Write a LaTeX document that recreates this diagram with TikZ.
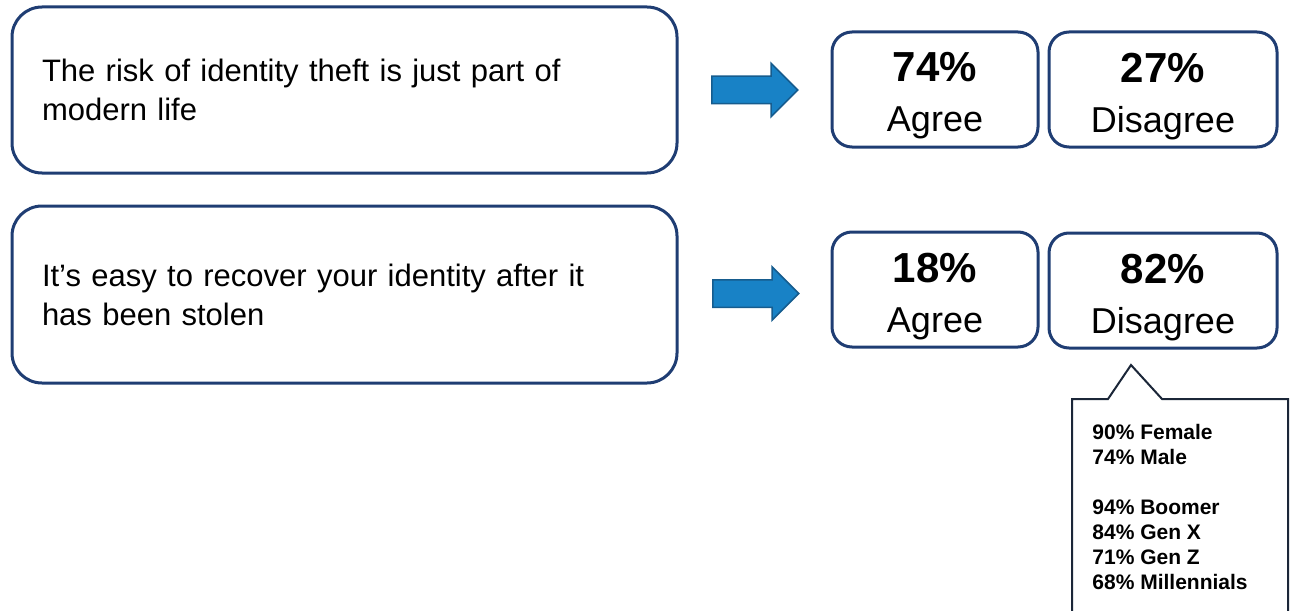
\documentclass[tikz,border=0pt]{standalone}
\usepackage{fontspec}
\setmainfont{Liberation Sans}
\usepackage{xcolor}
\usetikzlibrary{shapes.arrows}

\definecolor{navy}{HTML}{1F3D73}
\definecolor{arrowblue}{HTML}{1882C6}
\definecolor{arrowedge}{HTML}{165C8E}
\definecolor{calloutedge}{HTML}{1B2638}

\tikzset{
    stmtbox/.style={draw=navy,line width=1.5pt,rounded corners=15pt,minimum width=332.5pt,
        text width=302.5pt,align=left,inner xsep=15pt,font=\fontsize{15.5}{19.5}\selectfont},
    pctbox/.style={draw=navy,line width=1.5pt,rounded corners=10pt,minimum height=57.5pt,inner sep=0pt},
    pcttext/.style={align=center,inner sep=0pt,font=\fontsize{18}{25}\selectfont},
    bluearrow/.style={single arrow,draw=arrowedge,fill=arrowblue,line width=0.75pt,inner xsep=0pt,inner ysep=6.5pt,
        minimum height=43pt,minimum width=26pt,single arrow head extend=6.5pt,anchor=tail},
}

\newcommand{\pct}[1]{{\fontsize{21}{25}\selectfont\bfseries #1}}

\begin{document}
\begin{tikzpicture}[x=0.5pt,y=-0.5pt]
        \clip (0,0) rectangle (1299,610);
        % statements
        \node[stmtbox,minimum height=83pt] (stmtA) at (344.5,90) {The risk of identity theft is just part of\\modern life};
        \node[stmtbox,minimum height=88.5pt] (stmtB) at (344.5,294.5) {It’s easy to recover your identity after it\\has been stolen};
        \node[bluearrow] (arrA) at (711,90) {};
        \node[bluearrow] (arrB) at (712,293.5) {};
        % answers
        \node[pctbox,minimum width=103pt] (agreeA) at (935,89.5) {};
        \node[pctbox,minimum width=114pt] (disA) at (1163,89.5) {};
        \node[pctbox,minimum width=103pt] (agreeB) at (935,289.5) {};
        \node[pctbox,minimum width=114pt] (disB) at (1163,290.5) {};
        \node[pcttext] (agreeAtxt) at ([yshift=-3.3pt]agreeA.center) {\pct{74\%}\\Agree};
        \node[pcttext] (disAtxt) at ([yshift=-3.3pt]disA.center) {\pct{27\%}\\Disagree};
        \node[pcttext] (agreeBtxt) at ([yshift=-3.3pt]agreeB.center) {\pct{18\%}\\Agree};
        \node[pcttext] (disBtxt) at ([yshift=-3.3pt]disB.center) {\pct{82\%}\\Disagree};
        % breakdown callout
        \coordinate (tip) at (1131,365);
        \draw[calloutedge,line width=1pt,line join=miter] (1072,620) -- (1072,399) -- (1108,399) -- (tip) -- (1162,399) -- (1288,399) -- (1288,620);
        \node[anchor=north west,align=left,inner sep=0pt,font=\fontsize{10.5}{12.5}\selectfont\bfseries] (split) at (1092,424)
            {90\% Female\\74\% Male\\[12.5pt]94\% Boomer\\84\% Gen X\\71\% Gen Z\\68\% Millennials};
    \end{tikzpicture}
\end{document}
